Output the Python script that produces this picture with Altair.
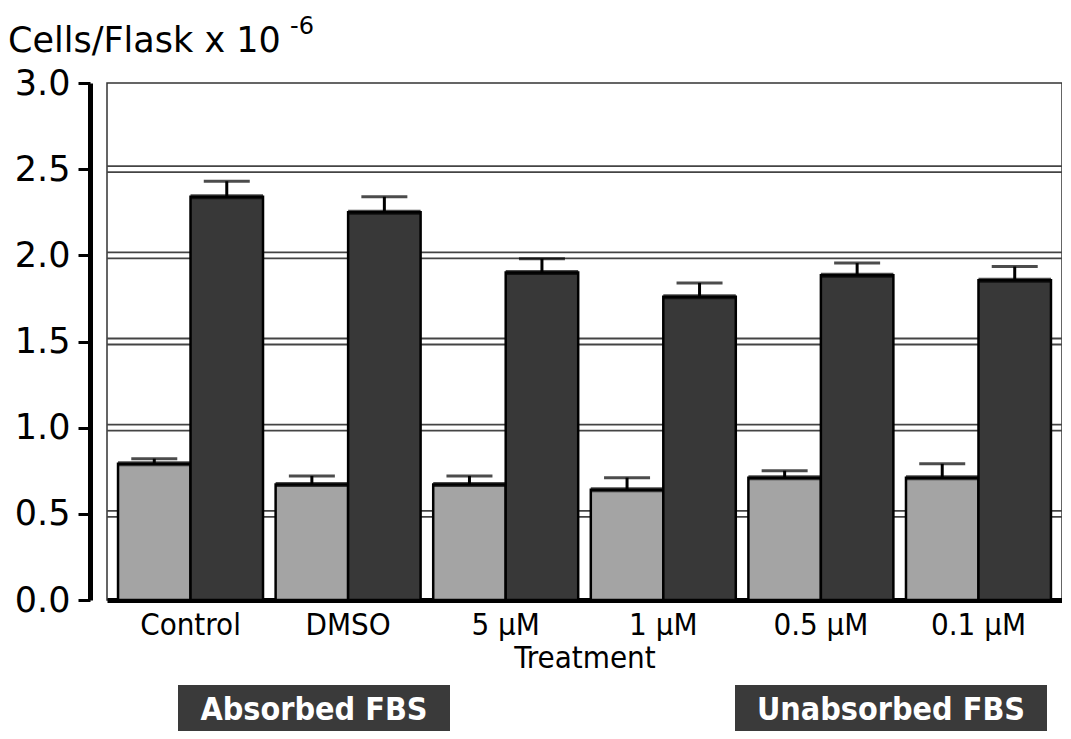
import altair as alt
import pandas as pd

# ---- data ----
treatments = ["Control", "DMSO", "5 µM", "1 µM", "0.5 µM", "0.1 µM"]
series = ["Absorbed FBS", "Unabsorbed FBS"]
absorbed = [0.79, 0.67, 0.67, 0.64, 0.71, 0.71]
absorbed_err = [0.03, 0.05, 0.05, 0.07, 0.04, 0.08]
unabsorbed = [2.34, 2.25, 1.90, 1.76, 1.885, 1.855]
unabsorbed_err = [0.09, 0.09, 0.08, 0.08, 0.07, 0.08]
grid_values = [0.5, 1.0, 1.5, 2.0, 2.5]
y_ticks = [0.0, 0.5, 1.0, 1.5, 2.0, 2.5, 3.0]

rows = []
for i, t in enumerate(treatments):
    rows.append({"Treatment": t, "Serum": series[0], "value": absorbed[i],
                 "upper": absorbed[i] + absorbed_err[i], "order": 0})
    rows.append({"Treatment": t, "Serum": series[1], "value": unabsorbed[i],
                 "upper": unabsorbed[i] + unabsorbed_err[i], "order": 1})
df = pd.DataFrame(rows)
grid_df = pd.DataFrame({"g": grid_values})
one = pd.DataFrame({"a": [0]})

FONT = "DejaVu Sans"
FONT_C = "DejaVu Sans Condensed, Liberation Sans Narrow, DejaVu Sans"

x_enc = alt.X("Treatment:N", sort=treatments,
              scale=alt.Scale(paddingInner=0.08, paddingOuter=0.07),
              axis=alt.Axis(title="Treatment", labelAngle=0, labelFont=FONT_C,
                            labelFontSize=31, labelColor="black", labelPadding=10,
                            ticks=False, domainColor="black", domainWidth=5,
                            titleFont=FONT_C, titleFontSize=31, titleFontWeight="normal",
                            titleColor="black", titlePadding=3))
y_scale = alt.Scale(domain=[0, 3], nice=False, zero=True)
xo = alt.XOffset("Serum:N", sort=series, scale=alt.Scale(paddingInner=0, paddingOuter=0))

grid1 = alt.Chart(grid_df).mark_rule(color="#444444", strokeWidth=1.8, yOffset=-3).encode(
    y=alt.Y("g:Q", scale=y_scale))
grid2 = alt.Chart(grid_df).mark_rule(color="#444444", strokeWidth=1.8, yOffset=3).encode(
    y=alt.Y("g:Q", scale=y_scale))

bars = alt.Chart(df).mark_bar(stroke="black", strokeWidth=2.5).encode(
    x=x_enc,
    xOffset=xo,
    y=alt.Y("value:Q", scale=y_scale,
            axis=alt.Axis(title=None, values=y_ticks, format=".1f", labelFont=FONT,
                          labelFontSize=35, labelColor="black", labelPadding=8,
                          tickSize=12, tickWidth=3, tickColor="black",
                          domainColor="black", domainWidth=5, offset=17, grid=False)),
    color=alt.Color("Serum:N", sort=series,
                    scale=alt.Scale(domain=series, range=["#a4a4a4", "#383838"]),
                    legend=None),
)

# thick black top edge on each bar
tops = alt.Chart(df).mark_tick(color="black", thickness=5).encode(
    x=alt.X("Treatment:N", sort=treatments), xOffset=xo,
    y=alt.Y("value:Q", scale=y_scale))

err = alt.Chart(df).mark_rule(color="black", strokeWidth=3).encode(
    x=alt.X("Treatment:N", sort=treatments), xOffset=xo,
    y=alt.Y("value:Q", scale=y_scale), y2="upper:Q")
caps = alt.Chart(df).mark_tick(color="black", thickness=3, size=46).encode(
    x=alt.X("Treatment:N", sort=treatments), xOffset=xo,
    y=alt.Y("upper:Q", scale=y_scale))

title_main = alt.Chart(one).mark_text(text="Cells/Flask x 10", font=FONT, fontSize=35,
                                      align="left", baseline="alphabetic", color="black").encode(
    x=alt.value(-99), y=alt.value(-31))
title_sup = alt.Chart(one).mark_text(text="-6", font=FONT, fontSize=24,
                                     align="left", baseline="alphabetic", color="black").encode(
    x=alt.value(183), y=alt.value(-49))

box1 = alt.Chart(one).mark_rect(color="#3a3a3a").encode(
    x=alt.value(71), x2=alt.value(343), y=alt.value(602), y2=alt.value(660))
box2 = alt.Chart(one).mark_rect(color="#3a3a3a").encode(
    x=alt.value(628), x2=alt.value(940), y=alt.value(602), y2=alt.value(660))
lab1 = alt.Chart(one).mark_text(text=series[0], font=FONT_C, fontSize=32, fontWeight="bold",
                                color="white", align="center", baseline="middle").encode(
    x=alt.value(207), y=alt.value(627))
lab2 = alt.Chart(one).mark_text(text=series[1], font=FONT_C, fontSize=32, fontWeight="bold",
                                color="white", align="center", baseline="middle").encode(
    x=alt.value(784), y=alt.value(627))

chart = alt.layer(grid1, grid2, bars, tops, err, caps, title_main, title_sup,
                  box1, box2, lab1, lab2).properties(
    width=955, height=517,
    autosize=alt.AutoSizeParams(type="none"),
    padding={"left": 99, "top": 75, "right": 0, "bottom": 131},
    background="white",
).configure_view(stroke="#333333", strokeWidth=1.5)

chart.save("out.html", embed_options={"renderer": "svg", "actions": False})
